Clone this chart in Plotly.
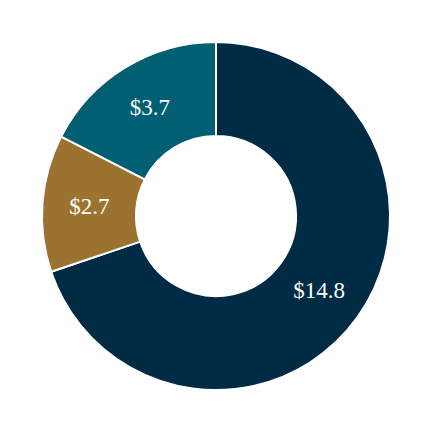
import plotly.graph_objects as go

labels = ["Navy", "Gold", "Teal"]
values = [14.8, 2.7, 3.7]
colors = ["#002b45", "#9b7230", "#005f73"]
text_labels = ["$14.8", "$2.7", "$3.7"]

fig = go.Figure(go.Pie(
    labels=labels,
    values=values,
    text=text_labels,
    textinfo="text",
    textposition="inside",
    insidetextorientation="horizontal",
    hole=0.46,
    sort=False,
    direction="clockwise",
    rotation=0,
    marker=dict(colors=colors, line=dict(color="white", width=2)),
    textfont=dict(family="Times New Roman, Liberation Serif, serif", size=23, color="white"),
    showlegend=False,
))
fig.update_layout(
    width=430, height=430,
    margin=dict(l=34, r=48, t=34, b=48),
    paper_bgcolor="white",
    plot_bgcolor="white",
)
fig.write_html("out.html")
